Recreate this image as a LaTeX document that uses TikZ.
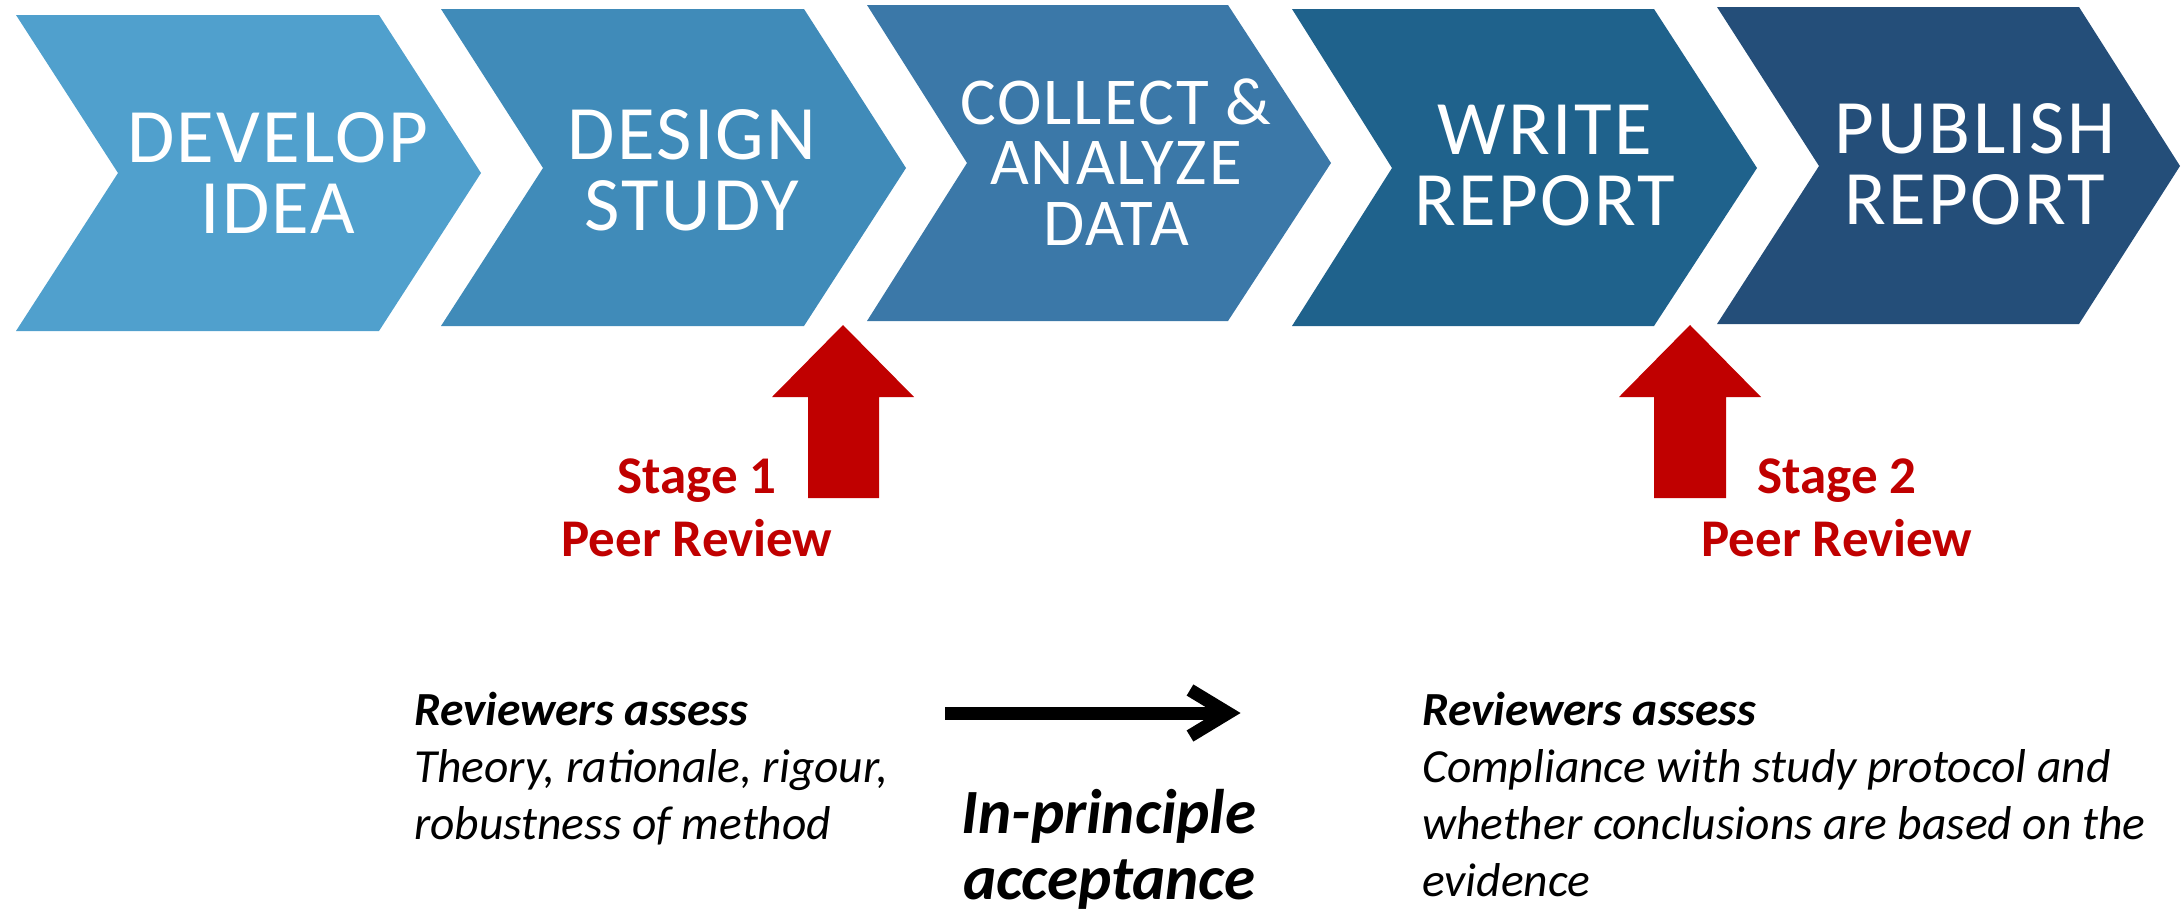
\documentclass[tikz,border=0pt]{standalone}
\usepackage{fontspec}
\usetikzlibrary{calc}
\setmainfont{Carlito}
\newfontfamily\chevfont[LetterSpace=3]{Carlito}
\definecolor{cA}{HTML}{50A0CD}
\definecolor{cB}{HTML}{408BB9}
\definecolor{cC}{HTML}{3B78A8}
\definecolor{cD}{HTML}{1F628C}
\definecolor{cE}{HTML}{244E79}
\definecolor{redarrow}{HTML}{C00000}
\begin{document}
\begin{tikzpicture}[x=1pt,y=-1pt,
  chevbig/.style={text=white, align=center, inner sep=0pt, font=\chevfont\fontsize{77}{71}\selectfont},
  chevsmall/.style={text=white, align=center, inner sep=0pt, font=\chevfont\fontsize{67}{60.5}\selectfont},
  stagelabel/.style={text=redarrow, align=center, inner sep=0pt, font=\bfseries\fontsize{53}{63}\selectfont},
  assess/.style={align=left, inner sep=0pt, anchor=north west, font=\itshape\fontsize{47.5}{57}\selectfont},
  redup/.style={fill=redarrow, draw=none},
  blackarrow/.style={line width=13pt, draw=black}]
\useasboundingbox (0,0) rectangle (2182,921);

% chevrons
\fill[cA] (16,15) -- (379,15) -- (481,173) -- (379,331) -- (16,331) -- (118,173) -- cycle;
\fill[cB] (441,9) -- (804,9) -- (906,168) -- (804,326) -- (441,326) -- (543,168) -- cycle;
\fill[cC] (867,5) -- (1228,5) -- (1331,163) -- (1228,321) -- (867,321) -- (967,163) -- cycle;
\fill[cD] (1292,9) -- (1654,9) -- (1757,168) -- (1654,326) -- (1292,326) -- (1392,168) -- cycle;
\fill[cE] (1717,7) -- (2079,7) -- (2180,166) -- (2079,324) -- (1717,324) -- (1819,166) -- cycle;

\node[chevbig] (develop) at (278,173) {DEVELOP\\IDEA};
\node[chevbig] (design) at (692,170) {DESIGN\\STUDY};
\node[chevsmall] (collect) at (1116,162) {COLLECT \&\\ANALYZE\\DATA};
\node[chevbig] (write) at (1545,166) {WRITE\\REPORT};
\node[chevbig] (publish) at (1975,164) {PUBLISH\\REPORT};

% red arrows
\fill[redup] (843,325) -- (914,397) -- (879,397) -- (879,498) -- (808,498) -- (808,397) -- (772,397) -- cycle;
\fill[redup] (1690,325) -- (1761,397) -- (1726,397) -- (1726,498) -- (1654,498) -- (1654,397) -- (1619,397) -- cycle;

\node[stagelabel] (stage1) at (697,508) {Stage 1\\Peer Review};
\node[stagelabel] (stage2) at (1837,508) {Stage 2\\Peer Review};

% bottom texts
\node[assess] (assess1) at (414,692) {\bfseries Reviewers assess\\Theory, rationale, rigour,\\robustness of method};
\node[assess] (assess2) at (1422,692) {\bfseries Reviewers assess\\Compliance with study protocol and\\whether conclusions are based on the\\evidence};
\node[align=center, inner sep=0pt, anchor=north, font=\bfseries\itshape\fontsize{63}{66}\selectfont] (ipa) at (1109,789) {In-principle\\acceptance};

% black arrow
\coordinate (ipS) at (945,713);
\coordinate (ipT) at (1228,713);
\draw[blackarrow] (ipS) -- ($(ipT)+(-4,0)$);
\draw[blackarrow, line join=miter] ($(ipT)+(-38,-23)$) -- (ipT) -- ($(ipT)+(-38,23)$);
\end{tikzpicture}
\end{document}
